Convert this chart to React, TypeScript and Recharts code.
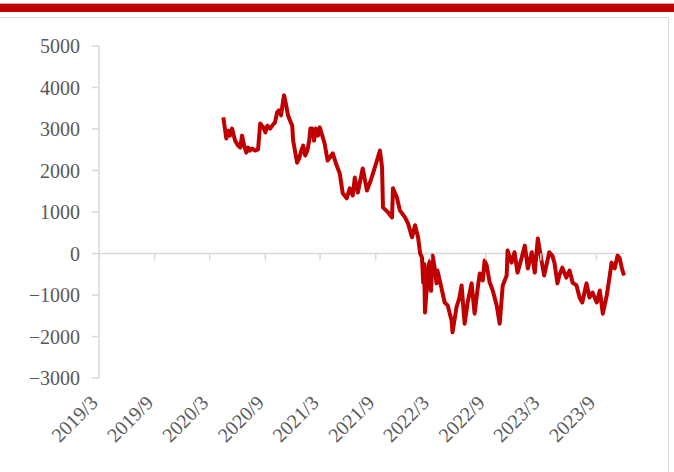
import React from "react";
import { LineChart, Line, XAxis, YAxis, ReferenceLine } from "recharts";

const dates = [
  "2020-04-15", "2020-04-25", "2020-05-01", "2020-05-07", "2020-05-14", "2020-05-24",
  "2020-06-03", "2020-06-10", "2020-06-16", "2020-06-23", "2020-06-30", "2020-07-06",
  "2020-07-12", "2020-07-19", "2020-07-29", "2020-08-08", "2020-08-15", "2020-08-25",
  "2020-09-01", "2020-09-08", "2020-09-17", "2020-09-27", "2020-10-03", "2020-10-10",
  "2020-10-16", "2020-10-23", "2020-10-30", "2020-11-02", "2020-11-09", "2020-11-15",
  "2020-11-22", "2020-11-29", "2020-12-02", "2020-12-08", "2020-12-15", "2020-12-22",
  "2020-12-29", "2021-01-04", "2021-01-11", "2021-01-18", "2021-01-24", "2021-01-28",
  "2021-02-03", "2021-02-09", "2021-02-15", "2021-02-22", "2021-02-28", "2021-03-10",
  "2021-03-16", "2021-03-26", "2021-04-12", "2021-04-25", "2021-05-05", "2021-05-15",
  "2021-05-28", "2021-06-07", "2021-06-17", "2021-06-24", "2021-07-04", "2021-07-20",
  "2021-08-03", "2021-08-13", "2021-08-23", "2021-09-05", "2021-09-15", "2021-09-22",
  "2021-09-25", "2021-10-12", "2021-10-25", "2021-10-28", "2021-11-10", "2021-11-20",
  "2021-12-07", "2021-12-17", "2021-12-30", "2022-01-09", "2022-01-19", "2022-01-26",
  "2022-02-01", "2022-02-05", "2022-02-08", "2022-02-11", "2022-02-15", "2022-02-18",
  "2022-02-22", "2022-02-28", "2022-03-03", "2022-03-08", "2022-03-14", "2022-03-21",
  "2022-03-24", "2022-04-07", "2022-04-17", "2022-04-27", "2022-05-10", "2022-05-13",
  "2022-05-26", "2022-06-05", "2022-06-12", "2022-06-22", "2022-07-02", "2022-07-15",
  "2022-07-25", "2022-08-04", "2022-08-11", "2022-08-21", "2022-08-27", "2022-09-03",
  "2022-09-13", "2022-09-23", "2022-10-06", "2022-10-16", "2022-10-26", "2022-11-08",
  "2022-11-11", "2022-11-24", "2022-12-04", "2022-12-14", "2022-12-27", "2023-01-07",
  "2023-01-17", "2023-01-30", "2023-02-09", "2023-02-19", "2023-03-02", "2023-03-12",
  "2023-03-29", "2023-04-08", "2023-04-15", "2023-04-25", "2023-05-01", "2023-05-11",
  "2023-05-24", "2023-06-04", "2023-06-14", "2023-06-27", "2023-07-07", "2023-07-16",
  "2023-07-30", "2023-08-09", "2023-08-19", "2023-09-02", "2023-09-12", "2023-09-22",
  "2023-10-05", "2023-10-15", "2023-10-21", "2023-10-31", "2023-11-10", "2023-11-17",
  "2023-11-24", "2023-12-01",
];

const spread = [
  3280, 2770, 2960, 2840, 3010, 2720,
  2600, 2550, 2840, 2600, 2430, 2550,
  2480, 2530, 2480, 2510, 3130, 3040,
  2920, 3080, 3010, 3110, 3160, 3400,
  3450, 3330, 3690, 3810, 3570, 3330,
  3200, 3080, 2720, 2480, 2190, 2290,
  2480, 2600, 2360, 2480, 2720, 3010,
  3010, 2720, 3010, 2840, 3040, 2800,
  2650, 2240, 2410, 2120, 1930, 1450,
  1330, 1570, 1400, 1830, 1470, 2050,
  1520, 1710, 1930, 2240, 2480, 2070,
  1110, 990, 870, 1570, 1350, 1040,
  870, 720, 390, 680, 390, 0,
  -100, -700, -250, -1420, -1000, -820,
  -300, -170, -900, -50, -300, -720,
  -410, -850, -1180, -1250, -1620, -1900,
  -1300, -1060, -770, -1690, -1180, -720,
  -1450, -850, -480, -650, -170, -290,
  -700, -890, -1250, -1690, -770, -530,
  70, -220, 30, -460, -120, 190,
  -360, 30, -460, 360, -120, -530,
  30, -50, -220, -720, -530, -340,
  -580, -410, -700, -770, -1060, -1180,
  -720, -1060, -940, -1180, -890, -1450,
  -1010, -530, -220, -360, -50, -120,
  -360, -530,
];

const xTickDates = [
  "2019-03-01", "2019-09-01", "2020-03-01", "2020-09-01", "2021-03-01",
  "2021-09-01", "2022-03-01", "2022-09-01", "2023-03-01", "2023-09-01",
];
const xTickLabels = [
  "2019/3", "2019/9", "2020/3", "2020/9", "2021/3",
  "2021/9", "2022/3", "2022/9", "2023/3", "2023/9",
];
const yTicks = [-3000, -2000, -1000, 0, 1000, 2000, 3000, 4000, 5000];

const X_START = Date.parse("2019-03-01");
const X_END = Date.parse("2023-12-01");
const Y_MIN = -3000;
const Y_MAX = 5000;

const W = 674;
const H = 472;
const PLOT_TOP = 46;
const X_AXIS_H = 94;
const PLOT_H = H - PLOT_TOP - X_AXIS_H;
const ZERO_Y = PLOT_TOP + ((Y_MAX - 0) / (Y_MAX - Y_MIN)) * PLOT_H;

const FONT = "'Liberation Serif', 'Times New Roman', serif";
const GRID = "#d9d9d9";
const TEXT = "#595959";
const RED = "#c00000";

const data = dates.map((d, i) => ({ t: Date.parse(d), v: spread[i] }));
const xTicks = xTickDates.map((d) => Date.parse(d));

const fmtY = (v: number) => (v < 0 ? `\u2212${-v}` : `${v}`);

function DateTick(props: any) {
  const { x, y, payload } = props;
  const idx = xTicks.indexOf(payload.value);
  const label = idx >= 0 ? xTickLabels[idx] : "";
  const ty = y + 26;
  return (
    <g>
      {/* tick marks hang off the zero line, labels sit at the bottom */}
      <line x1={x} x2={x} y1={ZERO_Y} y2={ZERO_Y + 7} stroke={GRID} strokeWidth={1.5} />
      <text
        x={x}
        y={ty}
        transform={`rotate(-45 ${x} ${ty})`}
        textAnchor="end"
        fill={TEXT}
        fontSize={20}
        fontFamily={FONT}
      >
        {label}
      </text>
    </g>
  );
}

export default function App() {
  return (
    <div style={{ position: "absolute", left: 0, top: 0, width: W, height: H, background: "#fff" }}>
      <div style={{ position: "absolute", left: 0, top: 3, width: W, height: 1, background: "#e8a0a0" }} />
      <div style={{ position: "absolute", left: 0, top: 4, width: W, height: 8, background: RED }} />
      <div
        style={{
          position: "absolute",
          left: -1,
          top: 17,
          width: 669,
          height: 470,
          borderTop: `1px solid ${GRID}`,
          borderRight: `1px solid ${GRID}`,
        }}
      />
      <div style={{ position: "absolute", left: 0, top: 0 }}>
        <LineChart width={W} height={H} data={data} margin={{ top: PLOT_TOP, right: 50, bottom: 0, left: 0 }}>
          <XAxis
            dataKey="t"
            type="number"
            domain={[X_START, X_END]}
            ticks={xTicks}
            interval={0}
            axisLine={false}
            tickLine={false}
            tickSize={0}
            tickMargin={0}
            height={X_AXIS_H}
            tick={<DateTick />}
          />
          <YAxis
            domain={[Y_MIN, Y_MAX]}
            ticks={yTicks}
            interval={0}
            width={99}
            axisLine={{ stroke: GRID, strokeWidth: 1.5 }}
            tickLine={{ stroke: GRID, strokeWidth: 1.5 }}
            tickSize={7}
            tickMargin={12}
            tick={{ fill: TEXT, fontSize: 20, fontFamily: FONT }}
            tickFormatter={fmtY}
          />
          <ReferenceLine y={0} stroke={GRID} strokeWidth={1.5} />
          <Line
            type="linear"
            dataKey="v"
            stroke={RED}
            strokeWidth={4}
            strokeLinejoin="round"
            dot={false}
            isAnimationActive={false}
          />
        </LineChart>
      </div>
    </div>
  );
}
